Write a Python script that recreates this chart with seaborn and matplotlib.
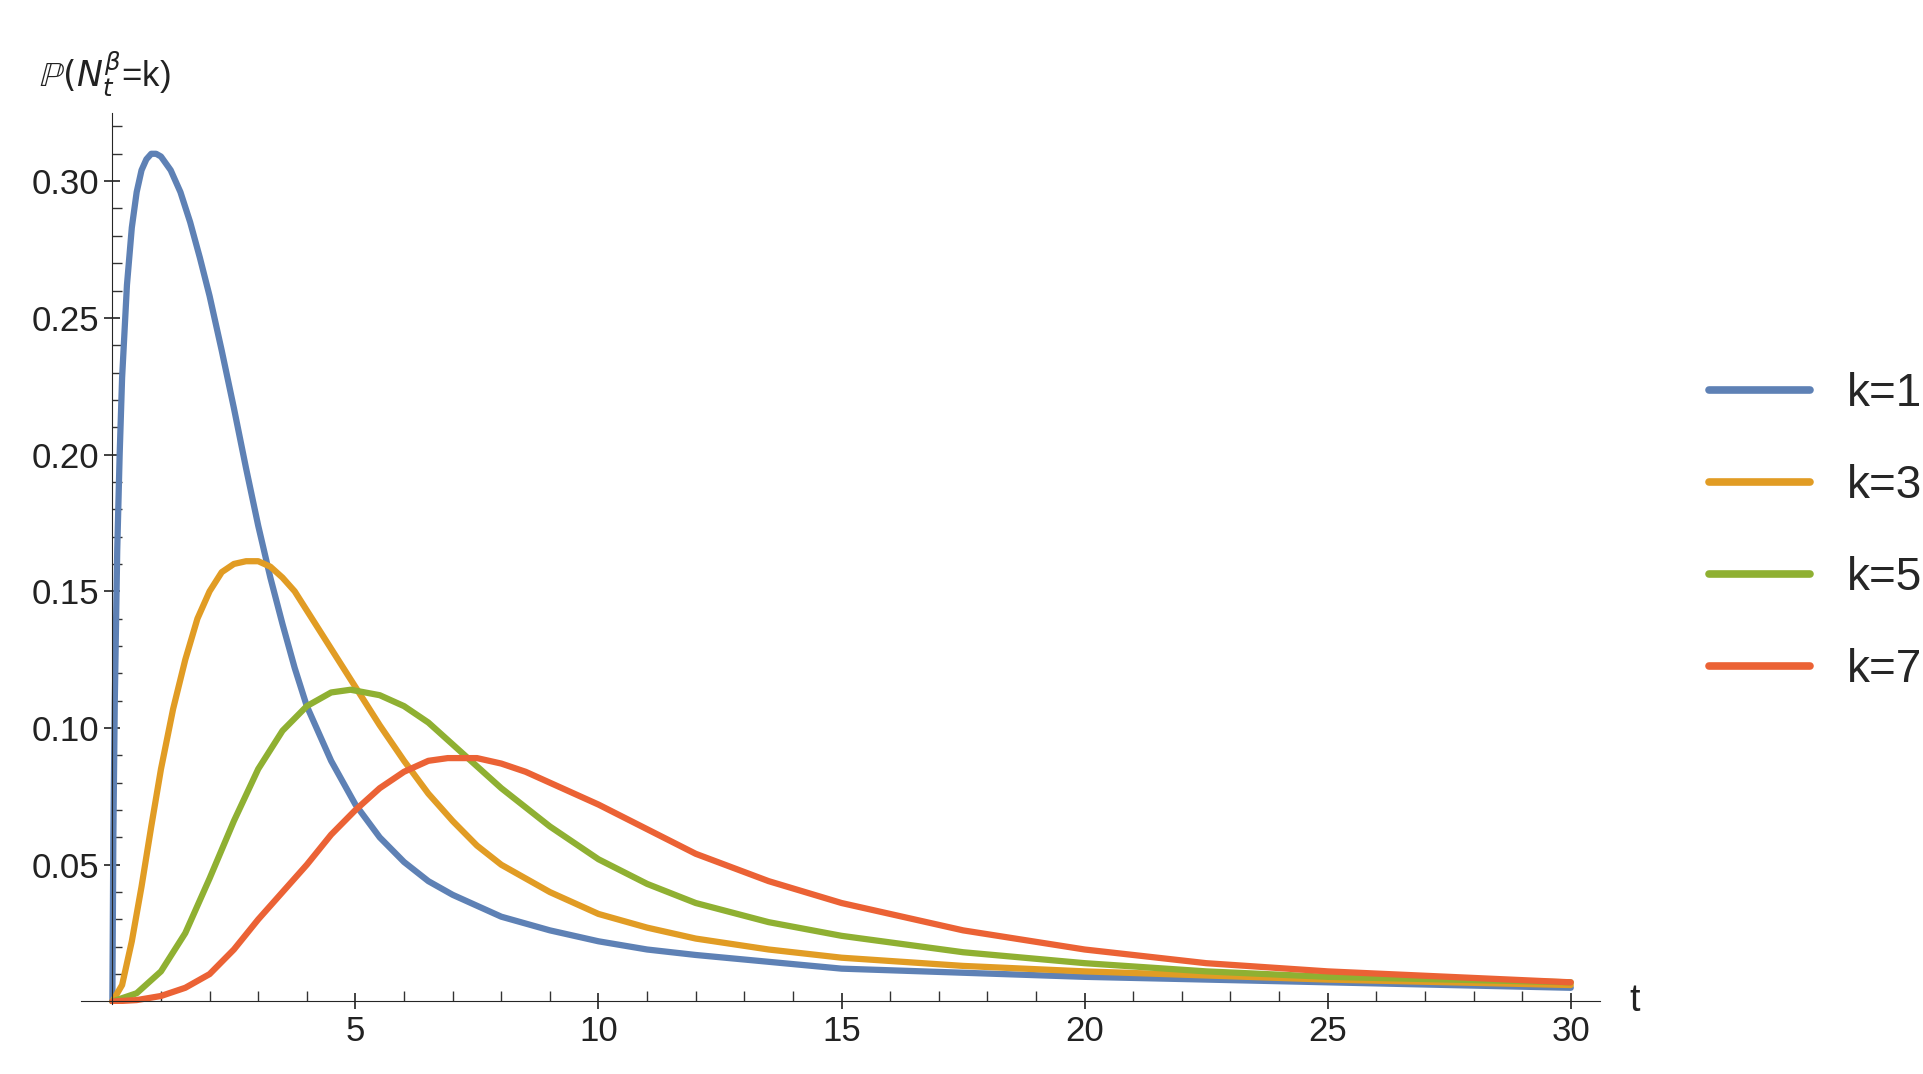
import matplotlib
matplotlib.use("Agg")
import matplotlib.pyplot as plt
import seaborn as sns
import pandas as pd
from matplotlib.ticker import MultipleLocator

t1 = [0, 0.02, 0.05, 0.1, 0.15, 0.2, 0.3, 0.4, 0.5, 0.6, 0.7, 0.8, 0.9, 1.0, 1.2, 1.4, 1.6, 1.8, 2, 2.25, 2.5, 2.75, 3, 3.25, 3.5, 3.75, 4, 4.5, 5, 5.5, 6, 6.5, 7, 7.5, 8, 9, 10, 11, 12, 13.5, 15, 17.5, 20, 22.5, 25, 27.5, 30]
k1 = [0, 0.06, 0.11, 0.165, 0.20, 0.228, 0.262, 0.283, 0.296, 0.304, 0.308, 0.310, 0.310, 0.309, 0.304, 0.296, 0.285, 0.272, 0.258, 0.238, 0.217, 0.195, 0.174, 0.155, 0.138, 0.122, 0.108, 0.088, 0.072, 0.060, 0.051, 0.044, 0.039, 0.035, 0.031, 0.026, 0.022, 0.019, 0.017, 0.0145, 0.012, 0.0105, 0.009, 0.008, 0.007, 0.006, 0.005]
t3 = [0, 0.2, 0.4, 0.6, 0.8, 1, 1.25, 1.5, 1.75, 2, 2.25, 2.5, 2.75, 3, 3.25, 3.5, 3.75, 4, 4.5, 5, 5.5, 6, 6.5, 7, 7.5, 8, 9, 10, 11, 12, 13.5, 15, 17.5, 20, 22.5, 25, 27.5, 30]
k3 = [0, 0.006, 0.022, 0.042, 0.064, 0.085, 0.107, 0.125, 0.140, 0.150, 0.157, 0.160, 0.161, 0.161, 0.159, 0.155, 0.150, 0.143, 0.129, 0.115, 0.101, 0.088, 0.076, 0.066, 0.057, 0.050, 0.040, 0.032, 0.027, 0.023, 0.019, 0.016, 0.013, 0.011, 0.0095, 0.008, 0.007, 0.006]
t5 = [0, 0.5, 1, 1.5, 2, 2.5, 3, 3.5, 4, 4.5, 4.9, 5.5, 6, 6.5, 7, 7.5, 8, 9, 10, 11, 12, 13.5, 15, 17.5, 20, 22.5, 25, 27.5, 30]
k5 = [0, 0.003, 0.011, 0.025, 0.045, 0.066, 0.085, 0.099, 0.108, 0.113, 0.114, 0.112, 0.108, 0.102, 0.094, 0.086, 0.078, 0.064, 0.052, 0.043, 0.036, 0.029, 0.024, 0.018, 0.014, 0.011, 0.009, 0.008, 0.007]
t7 = [0, 0.5, 1, 1.5, 2, 2.5, 3, 3.5, 4, 4.5, 5, 5.5, 6, 6.5, 6.9, 7.5, 8, 8.5, 9, 10, 11, 12, 13.5, 15, 17.5, 20, 22.5, 25, 27.5, 30]
k7 = [0, 0.0005, 0.002, 0.005, 0.010, 0.019, 0.030, 0.040, 0.050, 0.061, 0.070, 0.078, 0.084, 0.088, 0.089, 0.089, 0.087, 0.084, 0.080, 0.072, 0.063, 0.054, 0.044, 0.036, 0.026, 0.019, 0.014, 0.011, 0.009, 0.007]
labels = ["k=1", "k=3", "k=5", "k=7"]
colors = ["#5E81B5", "#E19C24", "#8FB032", "#EB6235"]

frames = []
for lab, t, v in zip(labels, [t1, t3, t5, t7], [k1, k3, k5, k7]):
    frames.append(pd.DataFrame({"t": t, "p": v, "k": lab}))
df = pd.concat(frames)

sns.set_style("ticks")
plt.rcParams['font.family'] = ['Liberation Sans', 'DejaVu Sans']
fig = plt.figure(figsize=(19.23, 10.74), dpi=100)
ax = fig.add_axes([0.042, 0.065, 0.79, 0.83])
sns.lineplot(data=df, x="t", y="p", hue="k", palette=colors, linewidth=4.5, ax=ax, sort=False)
ax.set_xlim(-0.65, 30.6)
ax.set_ylim(-0.001, 0.325)
for s in ["top", "right"]:
    ax.spines[s].set_visible(False)
ax.spines["left"].set_position(("data", 0))
ax.spines["bottom"].set_position(("data", 0))
ax.xaxis.set_minor_locator(MultipleLocator(1))
ax.yaxis.set_minor_locator(MultipleLocator(0.01))
ax.set_xticks([5, 10, 15, 20, 25, 30])
ax.set_yticks([0.05, 0.10, 0.15, 0.20, 0.25, 0.30])
ax.set_yticklabels(["0.05", "0.10", "0.15", "0.20", "0.25", "0.30"])
ax.tick_params(which="major", length=12, width=1.3, direction="inout", labelsize=25, color="#333333", labelcolor="#222222")
ax.tick_params(which="minor", length=7, width=1.0, direction="in", color="#333333")
ax.set_xlabel("")
ax.set_ylabel("")
ax.text(31.2, 0.0, "t", fontsize=27, va="center", color="#222222")
ax.text(-1.5, 0.33, r"$\mathbb{P}(N_t^{\beta}$=k)", fontsize=25, va="bottom", color="#222222")
leg = ax.legend(loc="center left", bbox_to_anchor=(1.06, 0.53), frameon=False, fontsize=33,
                handlelength=2.2, labelspacing=1.05, handletextpad=0.8, borderaxespad=0)
for l in leg.get_lines():
    l.set_linewidth(5.5)
fig.savefig("out.png", dpi=100)
